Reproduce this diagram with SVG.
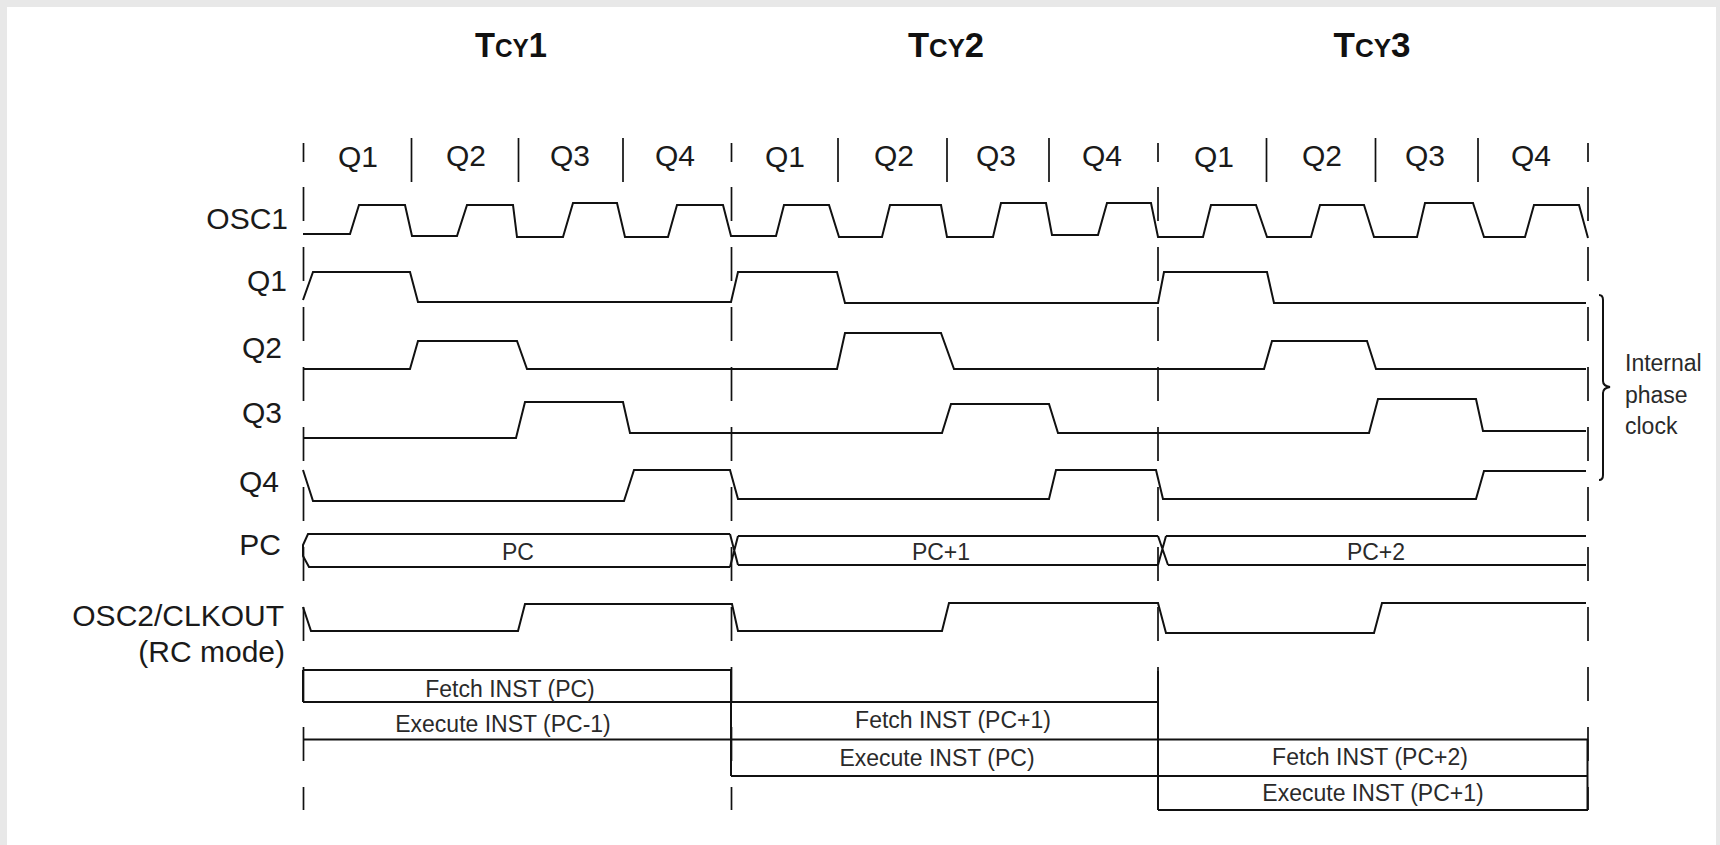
<svg xmlns="http://www.w3.org/2000/svg" width="1720" height="845" viewBox="0 0 1720 845">
<style>
.w{fill:none;stroke:#111;stroke-width:2;stroke-linejoin:miter}
.d{fill:none;stroke:#111;stroke-width:1.7;stroke-dasharray:34 26}
.t{stroke:#111;stroke-width:1.7}
.lab{font-family:"Liberation Sans",Arial,sans-serif;font-size:30px;fill:#1a1a1a}
.hd{font-family:"Liberation Sans",Arial,sans-serif;font-size:35px;font-weight:bold;fill:#111;text-anchor:middle}
.sm{font-family:"Liberation Sans",Arial,sans-serif;font-size:23px;fill:#2a2a2a;text-anchor:middle}
.nt{font-family:"Liberation Sans",Arial,sans-serif;font-size:23px;fill:#2a2a2a}
.end{text-anchor:end}
.mid{text-anchor:middle}
</style>
<rect width="1720" height="845" fill="#e8e8e8"/>
<rect x="7" y="7" width="1709" height="838" fill="#ffffff"/>

<g id="cycle-headers">
<text class="hd" x="511" y="57" textLength="72" lengthAdjust="spacingAndGlyphs">T<tspan font-size="26">CY</tspan>1</text>
<text class="hd" x="946" y="57" textLength="76" lengthAdjust="spacingAndGlyphs">T<tspan font-size="26">CY</tspan>2</text>
<text class="hd" x="1372" y="57" textLength="77" lengthAdjust="spacingAndGlyphs">T<tspan font-size="26">CY</tspan>3</text>
</g>

<g id="phase-labels">
<text class="lab mid" x="358" y="167">Q1</text>
<text class="lab mid" x="466" y="166">Q2</text>
<text class="lab mid" x="570" y="166">Q3</text>
<text class="lab mid" x="675" y="166">Q4</text>
<text class="lab mid" x="785" y="167">Q1</text>
<text class="lab mid" x="894" y="166">Q2</text>
<text class="lab mid" x="996" y="166">Q3</text>
<text class="lab mid" x="1102" y="166">Q4</text>
<text class="lab mid" x="1214" y="167">Q1</text>
<text class="lab mid" x="1322" y="166">Q2</text>
<text class="lab mid" x="1425" y="166">Q3</text>
<text class="lab mid" x="1531" y="166">Q4</text>
<path class="t" d="M411.5,138V182M518.5,138V182M623,138V182M838,138V182M947,138V182M1049,138V182M1266.5,138V182M1375.5,138V182M1478,138V182"/>
</g>

<g id="signal-labels">
<text class="lab end" x="288" y="229">OSC1</text>
<text class="lab end" x="287" y="291">Q1</text>
<text class="lab end" x="282" y="358">Q2</text>
<text class="lab end" x="282" y="423">Q3</text>
<text class="lab end" x="279" y="492">Q4</text>
<text class="lab end" x="281" y="555">PC</text>
<text class="lab end" x="284" y="626">OSC2/CLKOUT</text>
<text class="lab end" x="285" y="662">(RC mode)</text>
</g>

<g id="connectors">
<path class="t" d="M303.5,143V162M731.5,143V162M1158,143V162M1588,143V162"/>
<path class="d" d="M303.5,187V810M731.5,187V810M1158,187V810M1588,187V810"/>
</g>

<g id="osc1">
<path class="w" d="M303,234 L350,234 L359,205 L405,205 L412,236 L457,236 L467,205 L513,205 L517,237 L563,237 L573,203 L617,203 L625,237 L668,237 L677,205 L723,205 L731,236 L776,236 L784,205 L829,205 L839,237 L882,237 L890,205 L941,205 L947,237 L993,237 L1001,203 L1046,203 L1052,235 L1098,235 L1107,203 L1151,203 L1158,237 L1203,237 L1211,205 L1256,205 L1267,237 L1311,237 L1320,205 L1364,205 L1374,237 L1417,237 L1425,203 L1473,203 L1484,237 L1525,237 L1534,205 L1579,205 L1588,238"/>
</g>

<g id="q1">
<path class="w" d="M303,300 L313,272 L410,272 L418,302 L731,302 L738,272 L837,272 L845,303 L1158,303 L1164,272 L1267,272 L1274,303 L1586,303"/>
</g>

<g id="q2">
<path class="w" d="M303,369 L410,369 L418,341 L517,341 L527,369 L837,369 L845,333 L941,333 L954,369 L1264,369 L1272,341 L1367,341 L1376,369 L1586,369"/>
</g>

<g id="q3">
<path class="w" d="M303,438 L516,438 L525,402 L623,402 L630,433 L942,433 L951,404 L1049,404 L1058,433 L1369,433 L1378,399 L1476,399 L1483,431 L1586,431"/>
</g>

<g id="q4">
<path class="w" d="M303,470 L313,501 L624,501 L634,470 L730,470 L738,499 L1049,499 L1056,470 L1156,470 L1163,499 L1476,499 L1484,471 L1586,471"/>
</g>

<g id="brace">
<path class="w" stroke-width="1.8" d="M1599,295 Q1603,295 1603,300 L1603,381 Q1603,386 1610,387 Q1603,388 1603,393 L1603,475 Q1603,480 1599,480"/>
<text class="nt" x="1625" y="371">Internal</text>
<text class="nt" x="1625" y="403">phase</text>
<text class="nt" x="1625" y="434">clock</text>
</g>

<g id="pc">
<path class="w" d="M730,534 L308,534 L303,545 L303,556 L309,567 L730,567"/>
<path class="w" d="M730,534 L738,565 M730,567 L738,536"/>
<path class="w" d="M738,536 L1158,536 M738,565 L1158,565"/>
<path class="w" d="M1158,536 L1168,565 M1158,565 L1166,536"/>
<path class="w" d="M1166,536 L1586,536 M1168,565 L1586,565"/>
<text class="sm" x="518" y="560">PC</text>
<text class="sm" x="941" y="560">PC+1</text>
<text class="sm" x="1376" y="560">PC+2</text>
</g>

<g id="osc2">
<path class="w" d="M303,607 L311,631 L518,631 L525,604 L732,604 L738,631 L942,631 L949,603 L1158,603 L1166,633 L1374,633 L1382,603 L1586,603"/>
</g>

<g id="pipeline">
<path class="w" d="M303,670 L731,670 M303,702 L1158,702 M303,739.5 L1588,739.5 M731,776 L1588,776 M1158,810 L1588,810 M303,670 L303,702 M731,670 L731,776 M1158,671 L1158,810"/>
<path class="w" stroke-width="1.3" d="M1587.5,739.5 L1587.5,810"/>
<text class="sm" x="510" y="697">Fetch INST (PC)</text>
<text class="sm" x="503" y="732">Execute INST (PC-1)</text>
<text class="sm" x="953" y="728">Fetch INST (PC+1)</text>
<text class="sm" x="937" y="766">Execute INST (PC)</text>
<text class="sm" x="1370" y="765">Fetch INST (PC+2)</text>
<text class="sm" x="1373" y="801">Execute INST (PC+1)</text>
</g>
</svg>
